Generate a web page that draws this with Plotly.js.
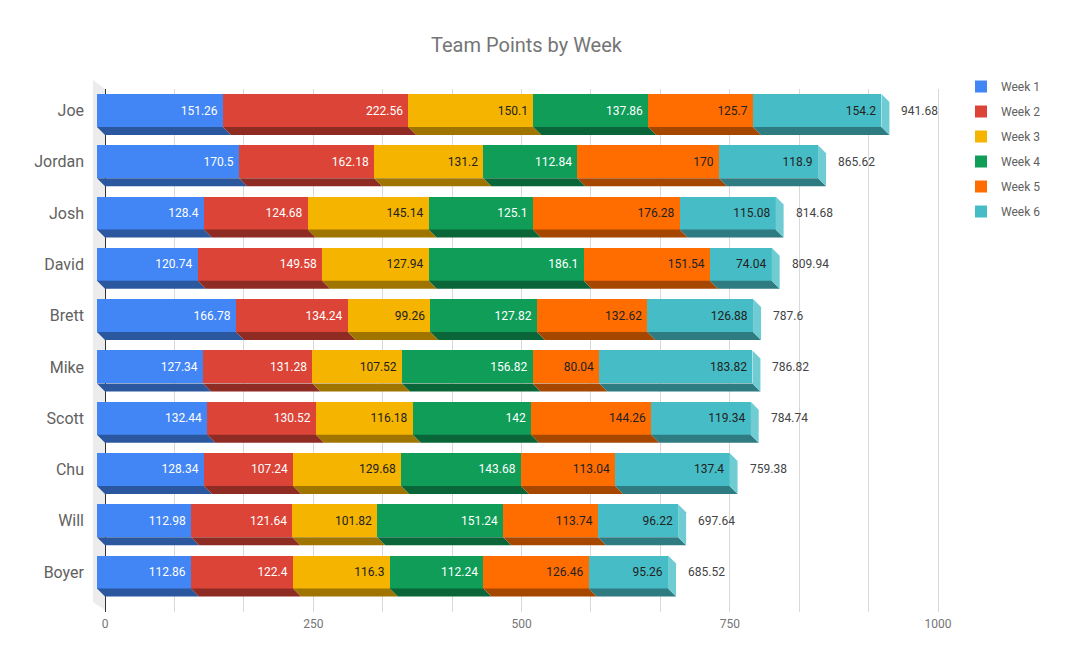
<!DOCTYPE html>
<html>
<head>
<meta charset="utf-8">
<script src="https://cdn.plot.ly/plotly-3.0.1.min.js"></script>
<style>
  html, body { margin: 0; padding: 0; background: #fff; }
  #chart { width: 1072px; height: 664px; }
</style>
</head>
<body>
<div id="chart"></div>
<script>
// Data
const players = ['Joe', 'Jordan', 'Josh', 'David', 'Brett', 'Mike', 'Scott', 'Chu', 'Will', 'Boyer'];
const weekNames = ['Week 1', 'Week 2', 'Week 3', 'Week 4', 'Week 5', 'Week 6'];
const week1 = [151.26, 170.5, 128.4, 120.74, 166.78, 127.34, 132.44, 128.34, 112.98, 112.86];
const week2 = [222.56, 162.18, 124.68, 149.58, 134.24, 131.28, 130.52, 107.24, 121.64, 122.4];
const week3 = [150.1, 131.2, 145.14, 127.94, 99.26, 107.52, 116.18, 129.68, 101.82, 116.3];
const week4 = [137.86, 112.84, 125.1, 186.1, 127.82, 156.82, 142, 143.68, 151.24, 112.24];
const week5 = [125.7, 170, 176.28, 151.54, 132.62, 80.04, 144.26, 113.04, 113.74, 126.46];
const week6 = [154.2, 118.9, 115.08, 74.04, 126.88, 183.82, 119.34, 137.4, 96.22, 95.26];
const xTickVals = [0, 250, 500, 750, 1000];

// Styles
const faceColors = ['#4285f4', '#db4437', '#f4b400', '#0f9d58', '#ff6d00', '#46bdc6'];
const bottomColors = ['#2b579f', '#8e2c24', '#9f7500', '#0a6639', '#a64700', '#2e7b81'];
const sideColor = '#6fccd3';
const labelColors = ['#ffffff', '#ffffff', '#222222', '#ffffff', '#222222', '#222222'];

// Geometry (pixels)
const plotL = 93, plotR = 960, plotT = 89, plotB = 612;
const zeroPx = 105, thousandPx = 938;
const rowTop = 118.5, rowPitch = 51.28;
const depth = 8;

const ppu = (thousandPx - zeroPx) / 1000;
const xRange = [(plotL - zeroPx) / ppu, (plotR - zeroPx) / ppu];
const yRange = [(plotB - rowTop) / rowPitch, (plotT - rowTop) / rowPitch];
const dx = depth / ppu;
const dy = depth / rowPitch;
const barW = 33 / rowPitch;

const weeks = [week1, week2, week3, week4, week5, week6];
const rows = players.map((p, i) => i);

// Front faces of the bars
const traces = weeks.map((vals, k) => ({
    type: 'bar',
    orientation: 'h',
    name: weekNames[k],
    x: vals,
    y: rows,
    xaxis: 'x2',
    yaxis: 'y2',
    width: barW,
    marker: { color: faceColors[k], line: { width: 0 } },
    text: vals.map(v => String(v) + '\u2009'),
    textposition: 'inside',
    insidetextanchor: 'end',
    constraintext: 'none',
    textangle: 0,
    insidetextfont: { family: 'Roboto', size: 12, color: labelColors[k] },
    hoverinfo: 'x+name',
    legendgroup: 'g' + k
}));

// 3D bottom and side faces
const shapes = [];
shapes.push({
    type: 'path', xref: 'paper', yref: 'paper', layer: 'below',
    path: (() => {
        const px = p => (p - plotL) / (plotR - plotL);
        const py = p => (plotB - p) / (plotB - plotT);
        return `M${px(93)},${py(80)} L${px(105)},${py(89)} L${px(105)},${py(610)} L${px(93)},${py(602)} Z`;
    })(),
    fillcolor: '#ececec', line: { width: 0 }
});

const totals = rows.map(i => weeks.reduce((s, w) => s + w[i], 0));
rows.forEach(i => {
    let start = 0;
    const yb = i + barW / 2;
    const yt = i - barW / 2;
    weeks.forEach((vals, k) => {
        const end = start + vals[i];
        shapes.push({
            type: 'path', xref: 'x', yref: 'y', layer: 'above',
            path: `M${start - dx},${yb - dy} L${end - dx},${yb - dy} L${end},${yb} L${start},${yb} Z`,
            fillcolor: bottomColors[k], line: { width: 0 }
        });
        start = end;
    });
    const t = totals[i];
    shapes.push({
        type: 'path', xref: 'x', yref: 'y', layer: 'above',
        path: `M${t - dx},${yt - dy} L${t},${yt} L${t},${yb} L${t - dx},${yb - dy} Z`,
        fillcolor: sideColor, line: { width: 0 }
    });
});

// Totals at the end of each bar
const annotations = rows.map(i => ({
    x: totals[i], y: i, xref: 'x2', yref: 'y2',
    text: String(parseFloat(totals[i].toFixed(2))),
    showarrow: false, xanchor: 'left', yanchor: 'middle', xshift: 18,
    font: { family: 'Roboto', size: 12, color: '#444444' }
}));

const layout = {
    width: 1072,
    height: 664,
    margin: { l: plotL, r: 1072 - plotR, t: plotT, b: 664 - plotB, pad: 0 },
    paper_bgcolor: '#ffffff',
    plot_bgcolor: 'rgba(0,0,0,0)',
    barmode: 'stack',
    font: { family: 'Roboto', color: '#616161' },
    title: {
        text: 'Team Points by Week',
        x: 0.5, xref: 'paper', xanchor: 'center',
        y: 1 - 45 / 664, yref: 'container', yanchor: 'middle',
        font: { family: 'Roboto', size: 20, color: '#757575' }
    },
    xaxis: {
        range: xRange,
        tickvals: xTickVals,
        ticktext: xTickVals.map(String),
        tickfont: { family: 'Roboto', size: 12, color: '#757575' },
        ticklabelstandoff: 3,
        showgrid: true,
        gridcolor: '#d9d9d9',
        minor: { dtick: 250 / 3, tick0: 0, showgrid: true, gridcolor: '#d9d9d9' },
        zeroline: true,
        zerolinecolor: '#333333',
        zerolinewidth: 1,
        showline: false,
        ticks: '',
        fixedrange: true
    },
    yaxis: {
        range: yRange,
        showticklabels: false,
        showgrid: false,
        zeroline: false,
        ticks: '',
        fixedrange: true
    },
    xaxis2: {
        range: xRange.map(v => v + dx),
        overlaying: 'x',
        visible: false,
        fixedrange: true
    },
    yaxis2: {
        range: yRange.map(v => v + dy),
        overlaying: 'y',
        side: 'left',
        tickvals: rows,
        ticktext: players,
        tickfont: { family: 'Roboto', size: 16, color: '#616161' },
        ticklabelstandoff: 8,
        showgrid: false,
        zeroline: false,
        ticks: '',
        fixedrange: true
    },
    showlegend: true,
    legend: {
        x: (961 - plotL) / (plotR - plotL),
        xanchor: 'left',
        y: (plotB - 72) / (plotB - plotT),
        yanchor: 'top',
        traceorder: 'grouped',
        tracegroupgap: 6,
        itemwidth: 30,
        font: { family: 'Roboto', size: 12, color: '#616161' },
        bgcolor: 'rgba(0,0,0,0)'
    },
    shapes: shapes,
    annotations: annotations
};

Plotly.newPlot('chart', traces, layout, { displayModeBar: false, staticPlot: true });
</script>
</body>
</html>
